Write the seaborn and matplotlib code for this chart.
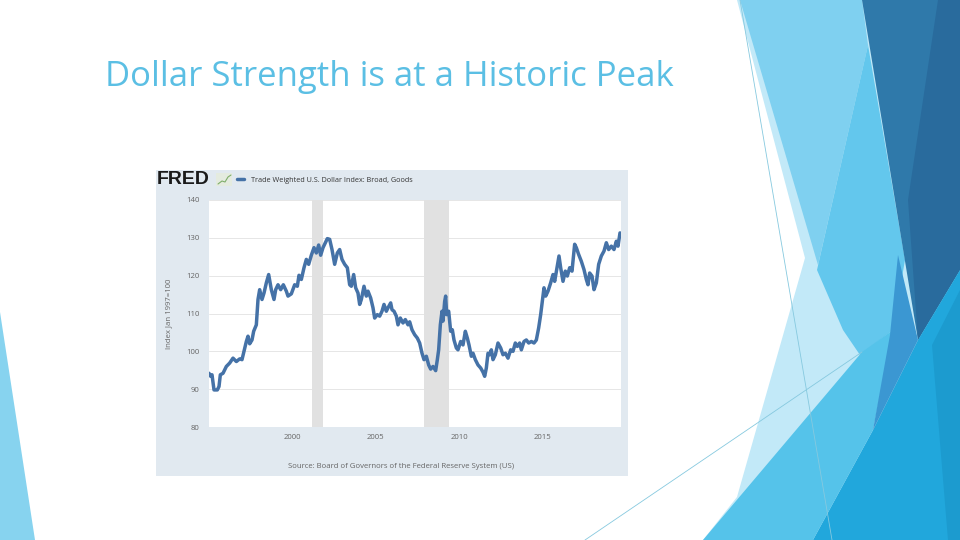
import matplotlib
matplotlib.use("Agg")
import matplotlib.pyplot as plt
import seaborn as sns
import pandas as pd
from matplotlib.patches import Polygon, Rectangle

# Trade Weighted U.S. Dollar Index: Broad, Goods
years = [
    1995.00, 1995.10, 1995.18, 1995.30, 1995.50, 1995.60, 1995.68, 1995.84, 1996.04, 1996.24,
    1996.44, 1996.64, 1996.84, 1996.98, 1997.10, 1997.24, 1997.34, 1997.44, 1997.58, 1997.68,
    1997.84, 1997.94, 1998.04, 1998.18, 1998.30, 1998.44, 1998.58, 1998.74, 1998.90, 1999.00,
    1999.14, 1999.30, 1999.46, 1999.64, 1999.74, 1999.94, 2000.14, 2000.30, 2000.40, 2000.54,
    2000.70, 2000.84, 2000.98, 2001.14, 2001.30, 2001.44, 2001.58, 2001.70, 2001.84, 2001.98,
    2002.10, 2002.24, 2002.38, 2002.54, 2002.70, 2002.84, 2002.98, 2003.14, 2003.30, 2003.44,
    2003.54, 2003.68, 2003.80, 2003.94, 2004.04, 2004.14, 2004.30, 2004.44, 2004.54, 2004.70,
    2004.84, 2004.94, 2005.10, 2005.24, 2005.38, 2005.50, 2005.64, 2005.74, 2005.90, 2005.98,
    2006.10, 2006.24, 2006.34, 2006.48, 2006.64, 2006.78, 2006.94, 2007.04, 2007.18, 2007.34,
    2007.50, 2007.64, 2007.78, 2007.90, 2008.04, 2008.18, 2008.30, 2008.44, 2008.60, 2008.70,
    2008.78, 2008.88, 2008.98, 2009.04, 2009.14, 2009.20, 2009.26, 2009.38, 2009.50, 2009.60,
    2009.70, 2009.84, 2009.94, 2010.10, 2010.24, 2010.38, 2010.50, 2010.60, 2010.74, 2010.84,
    2010.98, 2011.14, 2011.30, 2011.44, 2011.54, 2011.64, 2011.74, 2011.84, 2011.94, 2012.04,
    2012.18, 2012.34, 2012.50, 2012.64, 2012.78, 2012.94, 2013.10, 2013.24, 2013.38, 2013.50,
    2013.64, 2013.74, 2013.90, 2014.04, 2014.18, 2014.34, 2014.50, 2014.64, 2014.78, 2014.90,
    2015.00, 2015.10, 2015.20, 2015.34, 2015.50, 2015.64, 2015.74, 2015.88, 2016.00, 2016.10,
    2016.24, 2016.38, 2016.50, 2016.64, 2016.78, 2016.94, 2017.04, 2017.18, 2017.34, 2017.50,
    2017.64, 2017.74, 2017.84, 2017.98, 2018.10, 2018.24, 2018.38, 2018.54, 2018.70, 2018.84,
    2018.98, 2019.14, 2019.30, 2019.44, 2019.54, 2019.66,
]
values = [
    94.2, 93.4, 93.8, 89.8, 89.8, 90.7, 93.8, 94.2, 96.0, 96.9,
    98.2, 97.3, 98.0, 97.8, 100.0, 102.6, 104.0, 102.0, 103.0, 105.3,
    107.0, 113.7, 116.3, 113.7, 115.4, 118.1, 120.3, 116.3, 113.7, 116.3,
    117.6, 116.3, 117.6, 115.9, 114.6, 115.2, 117.6, 117.2, 120.1, 119.0,
    122.1, 124.3, 123.0, 125.4, 127.4, 126.0, 128.1, 125.4, 127.4, 128.7,
    129.8, 129.6, 126.9, 123.0, 126.0, 126.9, 124.3, 123.0, 122.1, 117.6,
    117.2, 120.3, 116.8, 115.4, 112.4, 113.7, 117.2, 114.6, 115.9, 114.1,
    111.5, 108.8, 109.7, 109.3, 110.6, 112.4, 110.6, 111.5, 112.8, 111.0,
    110.6, 109.3, 107.0, 108.8, 107.5, 108.4, 107.0, 107.8, 105.7, 104.4,
    103.5, 102.2, 99.5, 97.8, 98.7, 96.4, 95.3, 96.0, 94.9, 97.8,
    100.4, 107.0, 110.6, 108.0, 113.2, 114.6, 109.7, 110.6, 105.3, 105.7,
    103.0, 100.9, 100.4, 102.6, 101.7, 105.3, 103.5, 101.7, 98.7, 99.5,
    97.8, 96.4, 95.6, 94.5, 93.4, 95.6, 99.5, 99.1, 100.4, 97.8,
    99.1, 102.2, 100.9, 99.1, 99.5, 98.2, 100.4, 100.0, 102.2, 101.3,
    102.2, 100.4, 102.6, 103.0, 102.2, 102.6, 102.2, 103.0, 106.2, 109.7,
    113.2, 116.8, 114.6, 115.9, 118.1, 120.3, 118.5, 122.1, 125.2, 122.1,
    118.5, 121.2, 119.9, 122.1, 121.2, 128.3, 127.4, 125.6, 123.8, 121.6,
    119.0, 117.6, 120.7, 119.9, 116.3, 118.1, 123.0, 125.2, 126.5, 128.7,
    126.9, 127.8, 126.9, 129.1, 127.8, 131.3,
]
recession_start = [2001.17, 2007.92]
recession_end = [2001.84, 2009.42]
y_ticks = [80, 90, 100, 110, 120, 130, 140]
x_ticks = [2000, 2005, 2010, 2015]

df = pd.DataFrame({"year": years, "index": values})

sns.set_style("white")
plt.rcParams["font.family"] = ["Open Sans", "DejaVu Sans"]

fig = plt.figure(figsize=(9.6, 5.4), dpi=100)
fig.patch.set_facecolor("white")

# slide background drawn in pixel space
bg = fig.add_axes([0, 0, 1, 1], zorder=0)
bg.set_xlim(0, 960)
bg.set_ylim(540, 0)
bg.axis("off")

shapes = [
    ([(0, 312), (35, 540), (0, 540)], "#87d3ef"),
    ([(737, 0), (960, 0), (960, 540), (703, 540), (737, 497), (805, 258)], "#c2e9f8"),
    ([(740, 0), (862, 0), (868, 45), (818, 265)], "#7fd0f0"),
    ([(868, 45), (905, 260), (893, 330), (860, 355), (843, 330), (817, 270)], "#63c7ed"),
    ([(862, 0), (960, 0), (960, 270), (918, 340)], "#2f79aa"),
    ([(938, 0), (960, 0), (960, 270), (918, 340), (908, 200)], "#296b9d"),
    ([(813, 540), (960, 540), (960, 270), (918, 340), (873, 430)], "#21a7dc"),
    ([(703, 540), (862, 352), (893, 330), (873, 430), (813, 540)], "#55c3ea"),
    ([(898, 255), (918, 340), (873, 430), (890, 335)], "#3b97d2"),
    ([(932, 345), (960, 290), (960, 540), (948, 540)], "#1c9bcf"),
]
for pts, col in shapes:
    bg.add_patch(Polygon(pts, closed=True, facecolor=col, edgecolor="none"))
bg.plot([740, 832], [0, 540], color="#86c9df", lw=0.6)
bg.plot([585, 862], [540, 352], color="#86c9df", lw=0.6)

# FRED panel
bg.add_patch(Rectangle((156, 170), 472, 306, facecolor="#e1e9f0", edgecolor="none"))
bg.add_patch(Rectangle((216, 173), 16, 13, facecolor="#e4ebdf", edgecolor="none"))
bg.plot([218, 222, 225, 228, 231], [184, 181, 182, 177, 175], color="#7fae6a", lw=0.8)

fig.text(105 / 960, 1 - 86.5 / 540, "Dollar Strength is at a Historic Peak",
         fontsize=25, color="#5bbfe4", va="baseline", ha="left")
fig.text(157 / 960, 1 - 180 / 540, "FRED", fontsize=14, fontweight="heavy",
         family=["Liberation Sans", "DejaVu Sans"], color="#1a1a1a", va="center", ha="left")
fig.text(401 / 960, 1 - 466 / 540,
         "Source: Board of Governors of the Federal Reserve System (US)",
         fontsize=5.6, color="#666666", ha="center", va="center")

ax = fig.add_axes([209 / 960, 1 - 427 / 540, 412 / 960, 227 / 540], zorder=2)
ax.set_facecolor("white")
for s, e in zip(recession_start, recession_end):
    ax.axvspan(s, e, color="#e1e1e1", lw=0, zorder=1)
sns.lineplot(data=df, x="year", y="index", ax=ax, color="#4572a7", lw=2.5,
             label="Trade Weighted U.S. Dollar Index: Broad, Goods", zorder=3)

ax.set_xlim(1995.0, 2019.72)
ax.set_ylim(80, 140)
ax.set_xticks(x_ticks)
ax.set_xticklabels([str(t) for t in x_ticks])
ax.set_yticks(y_ticks)
ax.set_yticklabels([str(t) for t in y_ticks])
ax.tick_params(axis="both", length=0, labelsize=5.6, labelcolor="#666666")
ax.tick_params(axis="y", pad=7)
ax.tick_params(axis="x", pad=5)
ax.grid(axis="y", color="#e6e6e6", lw=0.7, zorder=0)
ax.set_axisbelow(True)
for sp in ax.spines.values():
    sp.set_visible(False)
ax.set_xlabel("")
ax.set_ylabel("Index Jan 1997=100", fontsize=5.6, color="#666666")
ax.yaxis.set_label_coords(-0.09, 0.5)

leg = ax.legend(loc="center left", bbox_to_anchor=(237 / 960, 1 - 180 / 540),
                bbox_transform=fig.transFigure, frameon=False, fontsize=5.2,
                handlelength=1.0, handletextpad=0.9, borderaxespad=0, borderpad=0)
for t in leg.get_texts():
    t.set_color("#333333")

fig.savefig("out.png", dpi=100, facecolor="white")
